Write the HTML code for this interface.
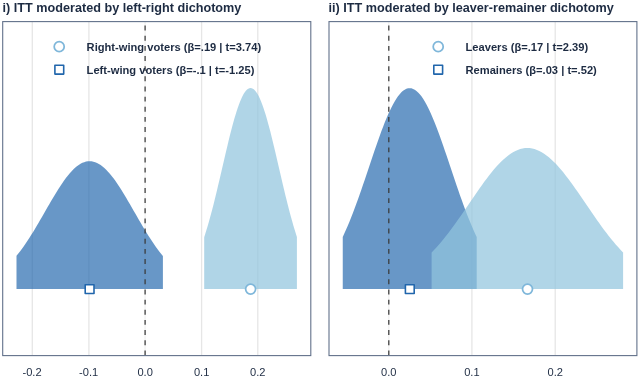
<!DOCTYPE html>
<html><head><meta charset="utf-8"><title>ITT moderation</title>
<style>html,body{margin:0;padding:0;background:#fff}body{width:640px;height:378px;overflow:hidden}</style></head>
<body>
<svg width="640" height="378" viewBox="0 0 640 378" style="display:block">
<rect width="640" height="378" fill="#fff"/>
<g font-family="'Liberation Sans',sans-serif" fill="#1d2b42">
<text x="2.6" y="11.6" font-size="12.65" font-weight="bold">i) ITT moderated by left-right dichotomy</text>
<text x="328.6" y="11.6" font-size="12.65" font-weight="bold">ii) ITT moderated by leaver-remainer dichotomy</text>
</g>
<line x1="32.3" y1="22" x2="32.3" y2="355" stroke="#e6e6e6" stroke-width="1.3"/>
<line x1="88.9" y1="22" x2="88.9" y2="355" stroke="#e6e6e6" stroke-width="1.3"/>
<line x1="201.6" y1="22" x2="201.6" y2="355" stroke="#e6e6e6" stroke-width="1.3"/>
<line x1="257.8" y1="22" x2="257.8" y2="355" stroke="#e6e6e6" stroke-width="1.3"/>
<line x1="471.9" y1="22" x2="471.9" y2="355" stroke="#e6e6e6" stroke-width="1.3"/>
<line x1="555.2" y1="22" x2="555.2" y2="355" stroke="#e6e6e6" stroke-width="1.3"/>
<line x1="145.1" y1="22" x2="145.1" y2="355.3" stroke="#f0f0f0" stroke-width="1.2"/>
<line x1="388.8" y1="22" x2="388.8" y2="355.3" stroke="#f0f0f0" stroke-width="1.2"/>
<path d="M16.50,289.00 L16.50,255.84 L18.33,253.56 L20.16,251.18 L21.99,248.70 L23.82,246.14 L25.65,243.49 L27.48,240.76 L29.31,237.96 L31.14,235.08 L32.97,232.13 L34.80,229.13 L36.63,226.07 L38.46,222.97 L40.29,219.83 L42.12,216.67 L43.95,213.49 L45.78,210.30 L47.61,207.12 L49.44,203.95 L51.27,200.81 L53.10,197.71 L54.93,194.65 L56.76,191.66 L58.59,188.75 L60.42,185.92 L62.25,183.20 L64.08,180.58 L65.91,178.09 L67.74,175.73 L69.57,173.51 L71.40,171.45 L73.23,169.56 L75.06,167.84 L76.89,166.31 L78.72,164.96 L80.55,163.82 L82.38,162.87 L84.21,162.13 L86.04,161.61 L87.87,161.30 L89.70,161.20 L91.53,161.32 L93.36,161.66 L95.19,162.20 L97.02,162.96 L98.85,163.93 L100.68,165.10 L102.51,166.47 L104.34,168.02 L106.17,169.76 L108.00,171.67 L109.83,173.75 L111.66,175.98 L113.49,178.35 L115.32,180.86 L117.15,183.49 L118.98,186.23 L120.81,189.06 L122.64,191.99 L124.47,194.98 L126.30,198.04 L128.13,201.15 L129.96,204.30 L131.79,207.47 L133.62,210.65 L135.45,213.84 L137.28,217.02 L139.11,220.18 L140.94,223.31 L142.77,226.41 L144.60,229.46 L146.43,232.46 L148.26,235.40 L150.09,238.27 L151.92,241.07 L153.75,243.79 L155.58,246.42 L157.41,248.98 L159.24,251.44 L161.07,253.81 L162.90,256.09 L162.90,289.00Z" fill="#2166ac" fill-opacity="0.68"/>
<path d="M204.20,289.00 L204.20,237.18 L205.36,233.60 L206.52,229.87 L207.68,225.99 L208.83,221.98 L209.99,217.83 L211.15,213.55 L212.31,209.14 L213.47,204.63 L214.63,200.00 L215.79,195.29 L216.95,190.49 L218.10,185.62 L219.26,180.69 L220.42,175.71 L221.58,170.71 L222.74,165.70 L223.90,160.70 L225.06,155.71 L226.22,150.77 L227.38,145.88 L228.53,141.07 L229.69,136.36 L230.85,131.77 L232.01,127.31 L233.17,123.00 L234.33,118.87 L235.49,114.93 L236.64,111.19 L237.80,107.69 L238.96,104.43 L240.12,101.43 L241.28,98.70 L242.44,96.26 L243.60,94.11 L244.76,92.28 L245.91,90.76 L247.07,89.57 L248.23,88.71 L249.39,88.18 L250.55,88.00 L251.71,88.16 L252.87,88.65 L254.03,89.48 L255.18,90.64 L256.34,92.13 L257.50,93.94 L258.66,96.06 L259.82,98.48 L260.98,101.18 L262.14,104.16 L263.30,107.40 L264.45,110.88 L265.61,114.60 L266.77,118.52 L267.93,122.64 L269.09,126.93 L270.25,131.37 L271.41,135.96 L272.57,140.66 L273.72,145.46 L274.88,150.34 L276.04,155.28 L277.20,160.26 L278.36,165.27 L279.52,170.28 L280.68,175.28 L281.84,180.26 L283.00,185.19 L284.15,190.07 L285.31,194.88 L286.47,199.60 L287.63,204.23 L288.79,208.76 L289.95,213.17 L291.11,217.46 L292.26,221.62 L293.42,225.65 L294.58,229.54 L295.74,233.28 L296.90,236.88 L296.90,289.00Z" fill="#92c5de" fill-opacity="0.72"/>
<path d="M342.75,289.00 L342.75,236.93 L344.42,233.34 L346.10,229.60 L347.77,225.72 L349.45,221.70 L351.12,217.54 L352.80,213.26 L354.47,208.85 L356.14,204.33 L357.82,199.71 L359.49,195.00 L361.17,190.20 L362.84,185.33 L364.52,180.41 L366.19,175.44 L367.87,170.45 L369.54,165.45 L371.21,160.45 L372.89,155.47 L374.56,150.54 L376.24,145.67 L377.91,140.88 L379.59,136.18 L381.26,131.60 L382.94,127.16 L384.61,122.87 L386.28,118.76 L387.96,114.84 L389.63,111.13 L391.31,107.65 L392.98,104.41 L394.66,101.43 L396.33,98.72 L398.00,96.30 L399.68,94.18 L401.35,92.37 L403.03,90.87 L404.70,89.70 L406.38,88.87 L408.05,88.36 L409.73,88.20 L411.40,88.37 L413.07,88.89 L414.75,89.73 L416.42,90.91 L418.10,92.42 L419.77,94.24 L421.45,96.37 L423.12,98.80 L424.79,101.51 L426.47,104.50 L428.14,107.75 L429.82,111.24 L431.49,114.95 L433.17,118.88 L434.84,123.00 L436.51,127.29 L438.19,131.74 L439.86,136.32 L441.54,141.02 L443.21,145.81 L444.89,150.69 L446.56,155.62 L448.24,160.60 L449.91,165.59 L451.58,170.60 L453.26,175.59 L454.93,180.56 L456.61,185.48 L458.28,190.34 L459.96,195.14 L461.63,199.85 L463.31,204.47 L464.98,208.99 L466.65,213.39 L468.33,217.67 L470.00,221.82 L471.68,225.84 L473.35,229.71 L475.03,233.45 L476.70,237.03 L476.70,289.00Z" fill="#2166ac" fill-opacity="0.68"/>
<path d="M431.60,289.00 L431.60,252.62 L433.99,250.10 L436.39,247.49 L438.78,244.77 L441.18,241.95 L443.57,239.03 L445.96,236.03 L448.36,232.94 L450.75,229.77 L453.14,226.52 L455.54,223.21 L457.93,219.84 L460.33,216.42 L462.72,212.96 L465.11,209.48 L467.51,205.97 L469.90,202.45 L472.29,198.94 L474.69,195.44 L477.08,191.97 L479.48,188.54 L481.87,185.17 L484.26,181.87 L486.66,178.64 L489.05,175.52 L491.44,172.50 L493.84,169.60 L496.23,166.84 L498.62,164.22 L501.02,161.77 L503.41,159.48 L505.81,157.38 L508.20,155.47 L510.59,153.76 L512.99,152.26 L515.38,150.97 L517.77,149.92 L520.17,149.08 L522.56,148.49 L524.96,148.12 L527.35,148.00 L529.74,148.11 L532.14,148.47 L534.53,149.05 L536.93,149.88 L539.32,150.93 L541.71,152.20 L544.11,153.69 L546.50,155.39 L548.89,157.29 L551.29,159.39 L553.68,161.67 L556.08,164.12 L558.47,166.72 L560.86,169.48 L563.26,172.37 L565.65,175.39 L568.04,178.51 L570.44,181.73 L572.83,185.03 L575.23,188.40 L577.62,191.83 L580.01,195.29 L582.41,198.79 L584.80,202.30 L587.19,205.82 L589.59,209.33 L591.98,212.82 L594.38,216.28 L596.77,219.70 L599.16,223.07 L601.56,226.38 L603.95,229.63 L606.34,232.81 L608.74,235.90 L611.13,238.91 L613.53,241.83 L615.92,244.65 L618.31,247.37 L620.71,250.00 L623.10,252.52 L623.10,289.00Z" fill="#92c5de" fill-opacity="0.72"/>
<line x1="145.1" y1="355.3" x2="145.1" y2="22" stroke="#3a3a3a" stroke-width="1.25" stroke-dasharray="4.9 5.25"/>
<line x1="388.8" y1="355.3" x2="388.8" y2="22" stroke="#3a3a3a" stroke-width="1.25" stroke-dasharray="4.9 5.25"/>
<rect x="85.19999999999999" y="284.70000000000005" width="8.8" height="8.8" fill="#fff" stroke="#2166ac" stroke-width="1.6" stroke-linejoin="round"/>
<circle cx="250.6" cy="289.05" r="5.0" fill="#fff" stroke="#7fb7da" stroke-width="1.75"/>
<rect x="405.40000000000003" y="284.70000000000005" width="8.8" height="8.8" fill="#fff" stroke="#2166ac" stroke-width="1.6" stroke-linejoin="round"/>
<circle cx="527.5" cy="289.05" r="5.0" fill="#fff" stroke="#7fb7da" stroke-width="1.75"/>
<circle cx="59.2" cy="46.7" r="5.0" fill="#fff" stroke="#7fb7da" stroke-width="1.75"/>
<rect x="54.9" y="65.3" width="8.8" height="8.8" fill="#fff" stroke="#2166ac" stroke-width="1.6" stroke-linejoin="round"/>
<circle cx="438.2" cy="46.7" r="5.0" fill="#fff" stroke="#7fb7da" stroke-width="1.75"/>
<rect x="433.8" y="65.3" width="8.8" height="8.8" fill="#fff" stroke="#2166ac" stroke-width="1.6" stroke-linejoin="round"/>
<g font-family="'Liberation Sans',sans-serif" fill="#1d2b42" font-size="11.15" font-weight="bold">
<text x="86.6" y="50.8">Right-wing voters (β=.19 | t=3.74)</text>
<text x="86.6" y="74.0">Left-wing voters (β=-.1 | t=-1.25)</text>
<text x="465.5" y="50.8">Leavers (β=.17 | t=2.39)</text>
<text x="465.5" y="74.0">Remainers (β=.03 | t=.52)</text>
</g>
<rect x="2.7" y="21.6" width="308.1" height="334" fill="none" stroke="#62718a" stroke-width="1.1"/>
<rect x="329.0" y="21.6" width="307.9" height="334" fill="none" stroke="#62718a" stroke-width="1.1"/>
<g font-family="'Liberation Sans',sans-serif" fill="#1d2b42" font-size="11.1" text-anchor="middle">
<text x="32.0" y="375.9">-0.2</text>
<text x="88.6" y="375.9">-0.1</text>
<text x="145.1" y="375.9">0.0</text>
<text x="201.6" y="375.9">0.1</text>
<text x="257.8" y="375.9">0.2</text>
<text x="388.8" y="375.9">0.0</text>
<text x="471.9" y="375.9">0.1</text>
<text x="555.2" y="375.9">0.2</text>
</g>
</svg>
</body></html>
